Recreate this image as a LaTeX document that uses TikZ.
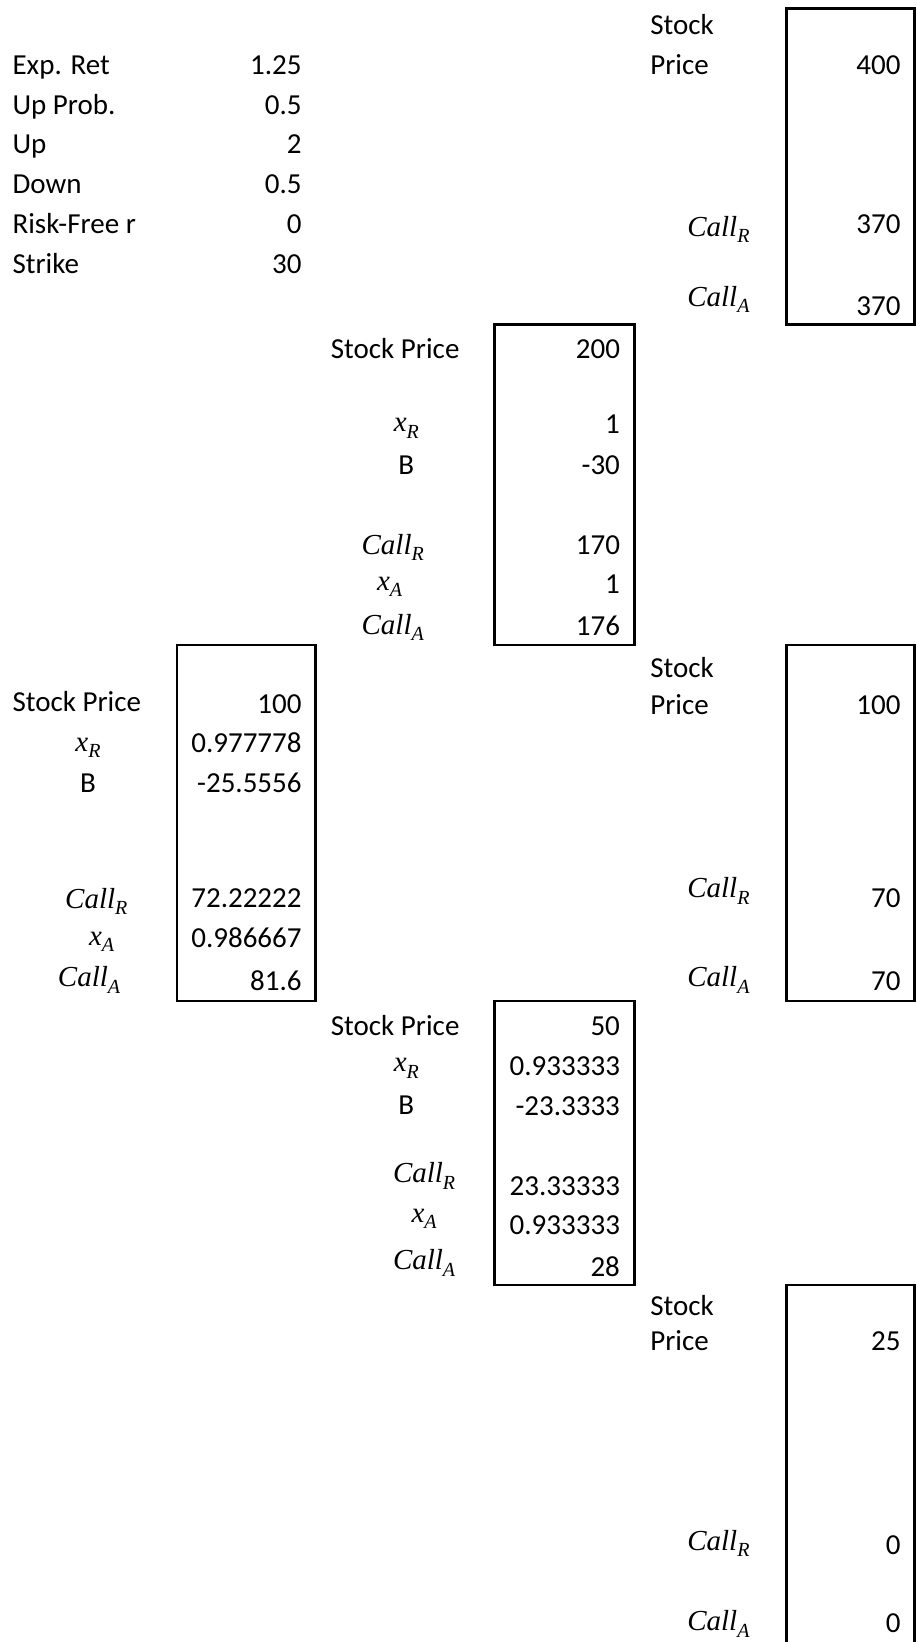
\documentclass[tikz,border=0pt]{standalone}
\usepackage{fontspec}
\setmainfont{Carlito}
\newfontfamily\mfont{Liberation Serif}
\newcommand\mv[2]{{\mfont\itshape #1}\raisebox{-0.22em}{\fontsize{20}{20}\selectfont\mfont\itshape #2}}
\begin{document}
\begin{tikzpicture}[x=1.0469pt,y=-1.0469pt,
  every node/.style={inner sep=0pt,outer sep=0pt,font=\fontsize{29}{34}\selectfont},
  lab/.style={anchor=west,text height=0.63em,text depth=0pt,yshift=-6.3pt},
  val/.style={anchor=east,text height=0.63em,text depth=0pt,yshift=-6.3pt},
  mlab/.style={anchor=center,text height=0.66em,text depth=0pt,yshift=-4.5pt},
  cell/.style={line width=2.6pt,line join=miter}]
\useasboundingbox (0,0) rectangle (875,1568);
% parameters
\node[lab] (p1) at (12,62) {Exp. Ret};     \node[val] (v1) at (288,62) {1.25};
\node[lab] (p2) at (12,100) {Up Prob.};    \node[val] (v2) at (288,100) {0.5};
\node[lab] (p3) at (12,138) {Up};          \node[val] (v3) at (288,138) {2};
\node[lab] (p4) at (12,176) {Down};        \node[val] (v4) at (288,176) {0.5};
\node[lab] (p5) at (12,214) {Risk-Free r}; \node[val] (v5) at (288,214) {0};
\node[lab] (p6) at (12,252) {Strike};      \node[val] (v6) at (288,252) {30};
% box A (400)
\draw[cell] (751,8) rectangle (873,310);
\node[lab] (a1) at (621,24) {Stock};
\node[lab] (a2) at (621,62) {Price};
\node[val] (a3) at (860,62) {400};
\node[mlab] (a4) at (686,218) {\mv{Call}{R}};
\node[val] (a5) at (860,214) {370};
\node[mlab] (a6) at (686,285) {\mv{Call}{A}};
\node[val] (a7) at (860,292) {370};
% box B (200)
\draw[cell] (472,310) rectangle (606,616);
\node[lab] (b1) at (316,333) {Stock Price};
\node[val] (b2) at (592,333) {200};
\node[mlab] (b3) at (388,405) {\mv{x}{R}};
\node[val] (b4) at (592,405) {1};
\node[lab,anchor=center] (b5) at (388,444) {B};
\node[val] (b6) at (592,444) {-30};
\node[mlab] (b7) at (375,522) {\mv{Call}{R}};
\node[val] (b8) at (592,520) {170};
\node[mlab] (b9) at (372,556) {\mv{x}{A}};
\node[val] (b10) at (592,558) {1};
\node[mlab] (b11) at (375,598) {\mv{Call}{A}};
\node[val] (b12) at (592,598) {176};
% box C (100 left)
\draw[cell] (169,616) rectangle (301,956);
\node[lab] (c1) at (12,670) {Stock Price};
\node[val] (c2) at (288,672) {100};
\node[mlab] (c3) at (84,710) {\mv{x}{R}};
\node[val] (c4) at (288,710) {0.977778};
\node[lab,anchor=center] (c5) at (84,748) {B};
\node[val] (c6) at (288,748) {-25.5556};
\node[mlab] (c7) at (92,860) {\mv{Call}{R}};
\node[val] (c8) at (288,858) {72.22222};
\node[mlab] (c9) at (97,895) {\mv{x}{A}};
\node[val] (c10) at (288,896) {0.986667};
\node[mlab] (c11) at (85,935) {\mv{Call}{A}};
\node[val] (c12) at (288,937) {81.6};
% box D (100 right)
\draw[cell] (751,616) rectangle (873,956);
\node[lab] (d1) at (621,638) {Stock};
\node[lab] (d2) at (621,673) {Price};
\node[val] (d3) at (860,673) {100};
\node[mlab] (d4) at (686,850) {\mv{Call}{R}};
\node[val] (d5) at (860,858) {70};
\node[mlab] (d6) at (686,935) {\mv{Call}{A}};
\node[val] (d7) at (860,937) {70};
% box E (50)
\draw[cell] (472,956) rectangle (606,1227);
\node[lab] (e1) at (316,980) {Stock Price};
\node[val] (e2) at (592,980) {50};
\node[mlab] (e3) at (388,1016) {\mv{x}{R}};
\node[val] (e4) at (592,1018) {0.933333};
\node[lab,anchor=center] (e5) at (388,1055) {B};
\node[val] (e6) at (592,1056) {-23.3333};
\node[mlab] (e7) at (405,1122) {\mv{Call}{R}};
\node[val] (e8) at (592,1133) {23.33333};
\node[mlab] (e9) at (405,1160) {\mv{x}{A}};
\node[val] (e10) at (592,1170) {0.933333};
\node[mlab] (e11) at (405,1205) {\mv{Call}{A}};
\node[val] (e12) at (592,1210) {28};
% box F (25)
\draw[cell] (751,1580) -- (751,1227) -- (873,1227) -- (873,1580);
\node[lab] (f1) at (621,1247) {Stock};
\node[lab] (f2) at (621,1281) {Price};
\node[val] (f3) at (860,1281) {25};
\node[mlab] (f4) at (686,1473) {\mv{Call}{R}};
\node[val] (f5) at (860,1475) {0};
\node[mlab] (f6) at (686,1550) {\mv{Call}{A}};
\node[val] (f7) at (860,1550) {0};
\end{tikzpicture}
\end{document}
